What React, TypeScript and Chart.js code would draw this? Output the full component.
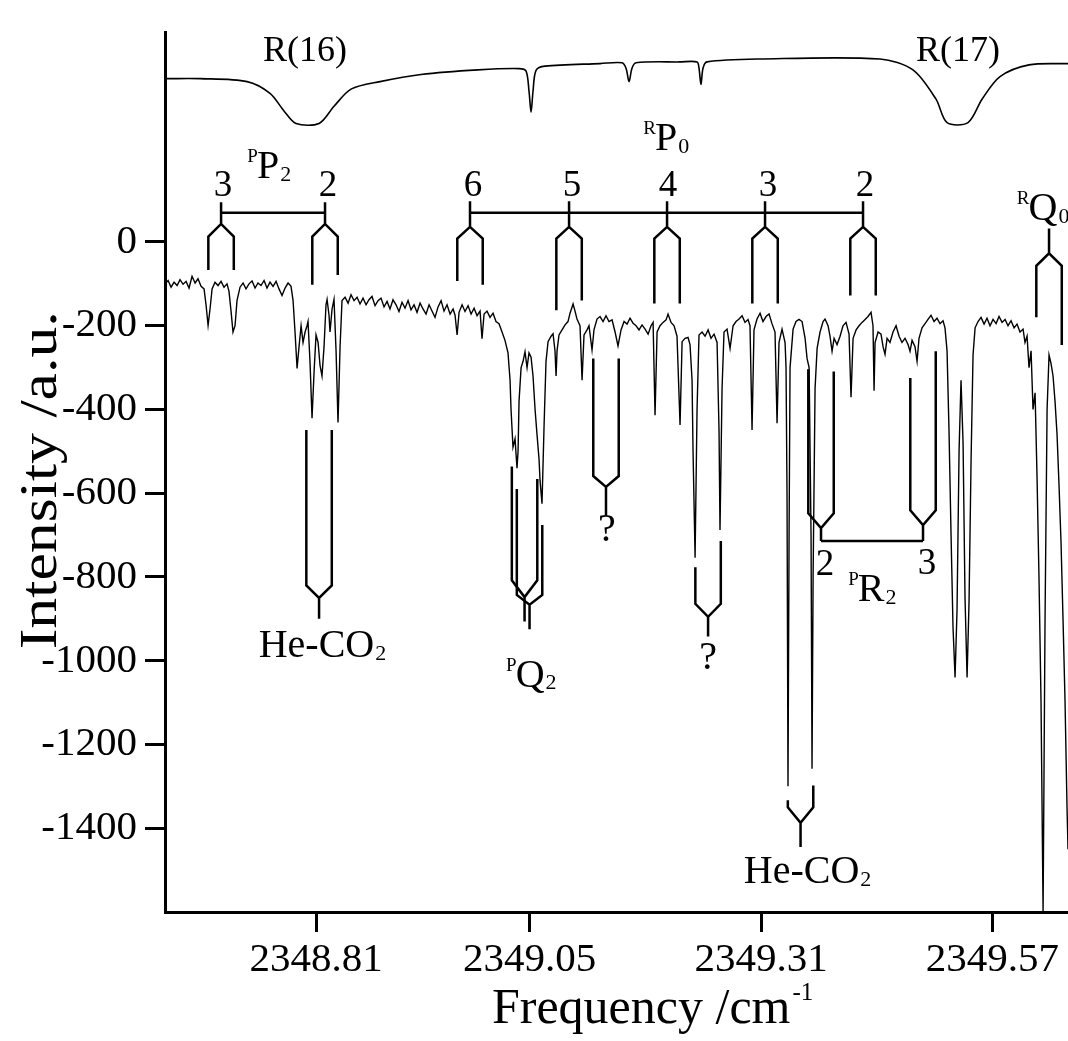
import React, { useEffect, useRef } from 'react';
import { Chart, registerables } from 'chart.js';

Chart.register(...registerables);

const FONT = "'Liberation Serif', 'Times New Roman', Times, serif";

// Axis ticks
const xTickValues = [2348.81, 2349.05, 2349.31, 2349.57];
const yTickValues = [0, -200, -400, -600, -800, -1000, -1200, -1400];

// Reference (upper) trace
const refFreq = [
  2348.6415, 2348.6797, 2348.7325, 2348.7583, 2348.7740, 2348.7875, 2348.8134, 2348.8302,
  2348.8493, 2348.8819, 2348.9280, 2348.9920, 2349.0381, 2349.0460, 2349.0493, 2349.0516,
  2349.0538, 2349.0572, 2349.0673, 2349.1291, 2349.1538, 2349.1583, 2349.1617, 2349.1650,
  2349.1695, 2349.2189, 2349.2381, 2349.2403, 2349.2425, 2349.2448, 2349.2493, 2349.3088,
  2349.4437, 2349.4807, 2349.5066, 2349.5190, 2349.5425, 2349.5583, 2349.5785, 2349.6111,
  2349.6549,
];
const refIntensity = [
  390, 390, 383, 355, 313, 283, 283, 324,
  365, 383, 400, 411, 414, 408, 360, 310,
  360, 410, 420, 426, 428, 415, 383, 415,
  428, 430, 430, 415, 376, 415, 430, 437,
  437, 411, 341, 285, 285, 341, 395, 423,
  426,
];

// Measured spectrum (lower trace)
const specFreq = [
  2348.6404, 2348.6438, 2348.6471, 2348.6505, 2348.6539, 2348.6572, 2348.6606, 2348.6640, 2348.6673, 2348.6707,
  2348.6741, 2348.6774, 2348.6808, 2348.6842, 2348.6864, 2348.6887, 2348.6909, 2348.6932, 2348.6965, 2348.6999,
  2348.7033, 2348.7066, 2348.7100, 2348.7122, 2348.7145, 2348.7167, 2348.7190, 2348.7212, 2348.7246, 2348.7280,
  2348.7313, 2348.7347, 2348.7381, 2348.7415, 2348.7448, 2348.7482, 2348.7516, 2348.7549, 2348.7583, 2348.7617,
  2348.7651, 2348.7684, 2348.7718, 2348.7752, 2348.7786, 2348.7819, 2348.7842, 2348.7864, 2348.7887, 2348.7909,
  2348.7932, 2348.7954, 2348.7977, 2348.7999, 2348.8010, 2348.8033, 2348.8055, 2348.8078, 2348.8100, 2348.8123,
  2348.8145, 2348.8167, 2348.8190, 2348.8212, 2348.8224, 2348.8246, 2348.8257, 2348.8280, 2348.8302, 2348.8325,
  2348.8347, 2348.8370, 2348.8392, 2348.8426, 2348.8460, 2348.8493, 2348.8527, 2348.8561, 2348.8594, 2348.8628,
  2348.8662, 2348.8695, 2348.8729, 2348.8763, 2348.8797, 2348.8830, 2348.8864, 2348.8898, 2348.8931, 2348.8965,
  2348.8999, 2348.9032, 2348.9066, 2348.9100, 2348.9134, 2348.9167, 2348.9201, 2348.9235, 2348.9269, 2348.9302,
  2348.9336, 2348.9370, 2348.9403, 2348.9437, 2348.9471, 2348.9505, 2348.9538, 2348.9572, 2348.9606, 2348.9640,
  2348.9662, 2348.9685, 2348.9707, 2348.9741, 2348.9774, 2348.9808, 2348.9842, 2348.9876, 2348.9909, 2348.9943,
  2348.9965, 2348.9988, 2349.0021, 2349.0055, 2349.0089, 2349.0122, 2349.0156, 2349.0190, 2349.0223, 2349.0257,
  2349.0280, 2349.0291, 2349.0313, 2349.0336, 2349.0358, 2349.0370, 2349.0381, 2349.0404, 2349.0426, 2349.0448,
  2349.0471, 2349.0493, 2349.0516, 2349.0538, 2349.0561, 2349.0583, 2349.0606, 2349.0617, 2349.0639, 2349.0662,
  2349.0684, 2349.0707, 2349.0741, 2349.0763, 2349.0785, 2349.0797, 2349.0808, 2349.0830, 2349.0864, 2349.0898,
  2349.0931, 2349.0954, 2349.0988, 2349.1010, 2349.1032, 2349.1066, 2349.1089, 2349.1111, 2349.1145, 2349.1167,
  2349.1201, 2349.1223, 2349.1257, 2349.1291, 2349.1325, 2349.1358, 2349.1392, 2349.1426, 2349.1460, 2349.1493,
  2349.1527, 2349.1561, 2349.1595, 2349.1628, 2349.1662, 2349.1696, 2349.1729, 2349.1763, 2349.1797, 2349.1831,
  2349.1864, 2349.1887, 2349.1909, 2349.1932, 2349.1965, 2349.1999, 2349.2033, 2349.2055, 2349.2089, 2349.2123,
  2349.2156, 2349.2190, 2349.2213, 2349.2246, 2349.2280, 2349.2302, 2349.2325, 2349.2336, 2349.2359, 2349.2381,
  2349.2403, 2349.2437, 2349.2471, 2349.2505, 2349.2538, 2349.2572, 2349.2606, 2349.2628, 2349.2639, 2349.2662,
  2349.2684, 2349.2718, 2349.2752, 2349.2786, 2349.2819, 2349.2853, 2349.2887, 2349.2920, 2349.2954, 2349.2976,
  2349.2999, 2349.3021, 2349.3055, 2349.3089, 2349.3122, 2349.3156, 2349.3190, 2349.3223, 2349.3257, 2349.3280,
  2349.3302, 2349.3336, 2349.3370, 2349.3381, 2349.3392, 2349.3403, 2349.3415, 2349.3426, 2349.3460, 2349.3493,
  2349.3527, 2349.3561, 2349.3595, 2349.3617, 2349.3640, 2349.3662, 2349.3673, 2349.3685, 2349.3707, 2349.3730,
  2349.3763, 2349.3797, 2349.3819, 2349.3853, 2349.3875, 2349.3898, 2349.3921, 2349.3954, 2349.3988, 2349.4021,
  2349.4055, 2349.4089, 2349.4111, 2349.4134, 2349.4168, 2349.4201, 2349.4235, 2349.4269, 2349.4302, 2349.4336,
  2349.4358, 2349.4370, 2349.4381, 2349.4415, 2349.4448, 2349.4471, 2349.4493, 2349.4516, 2349.4549, 2349.4583,
  2349.4617, 2349.4651, 2349.4684, 2349.4718, 2349.4752, 2349.4774, 2349.4797, 2349.4830, 2349.4853, 2349.4875,
  2349.4909, 2349.4943, 2349.4976, 2349.5010, 2349.5044, 2349.5077, 2349.5111, 2349.5145, 2349.5167, 2349.5190,
  2349.5212, 2349.5235, 2349.5257, 2349.5280, 2349.5302, 2349.5325, 2349.5347, 2349.5370, 2349.5392, 2349.5415,
  2349.5437, 2349.5460, 2349.5482, 2349.5505, 2349.5538, 2349.5572, 2349.5606, 2349.5639, 2349.5673, 2349.5707,
  2349.5741, 2349.5774, 2349.5808, 2349.5842, 2349.5875, 2349.5909, 2349.5943, 2349.5976, 2349.6010, 2349.6044,
  2349.6066, 2349.6089, 2349.6111, 2349.6134, 2349.6156, 2349.6179, 2349.6201, 2349.6223, 2349.6246, 2349.6269,
  2349.6291, 2349.6314, 2349.6336, 2349.6358, 2349.6381, 2349.6403, 2349.6426, 2349.6448, 2349.6471, 2349.6493,
  2349.6516, 2349.6538, 2349.6549,
];
const specIntensity = [
  -100, -92, -108, -96, -104, -90, -101, -94, -110, -82,
  -98, -88, -106, -112, -150, -199, -160, -112, -96, -104,
  -94, -108, -100, -118, -165, -215, -200, -140, -108, -98,
  -112, -100, -93, -110, -98, -104, -92, -110, -96, -106,
  -94, -112, -128, -110, -98, -106, -140, -215, -302, -250,
  -200, -240, -215, -200, -190, -290, -421, -310, -222, -240,
  -295, -320, -250, -150, -137, -175, -215, -160, -137, -260,
  -431, -250, -140, -132, -146, -126, -140, -132, -148, -134,
  -150, -138, -130, -152, -140, -134, -155, -142, -160, -138,
  -150, -166, -144, -158, -140, -162, -150, -168, -146, -160,
  -172, -150, -165, -180, -155, -140, -165, -150, -172, -160,
  -175, -222, -168, -150, -166, -152, -172, -158, -176, -165,
  -231, -172, -165, -180, -170, -190, -195, -215, -235, -265,
  -330, -400, -490, -470, -540, -500, -380, -300, -285, -262,
  -300, -265, -275, -320, -400, -460, -520, -570, -625, -440,
  -285, -238, -225, -219, -260, -320, -260, -222, -210, -198,
  -190, -170, -148, -165, -184, -200, -330, -222, -210, -200,
  -258, -210, -184, -178, -190, -176, -190, -186, -215, -248,
  -210, -190, -196, -182, -194, -200, -210, -198, -208, -220,
  -200, -192, -414, -215, -200, -192, -186, -172, -192, -200,
  -225, -437, -238, -230, -228, -245, -330, -500, -754, -400,
  -222, -215, -225, -210, -230, -220, -240, -450, -688, -350,
  -215, -208, -254, -200, -190, -184, -176, -192, -185, -200,
  -449, -210, -184, -170, -190, -178, -172, -195, -215, -433,
  -240, -208, -240, -300, -600, -1300, -700, -300, -208, -190,
  -185, -190, -230, -278, -300, -700, -1258, -800, -350, -254,
  -215, -190, -184, -200, -225, -261, -230, -245, -225, -200,
  -192, -220, -371, -230, -210, -200, -192, -185, -178, -168,
  -200, -355, -240, -215, -220, -250, -268, -230, -240, -215,
  -200, -225, -240, -230, -245, -261, -235, -250, -285, -230,
  -205, -195, -185, -175, -190, -182, -195, -188, -205, -260,
  -450, -700, -920, -1040, -880, -500, -330, -480, -850, -1040,
  -860, -520, -270, -205, -190, -180, -196, -182, -200, -185,
  -195, -178, -192, -185, -200, -188, -205, -196, -215, -208,
  -240, -225, -300, -260, -400, -360, -560, -800, -1100, -1600,
  -900, -400, -270, -290, -320, -380, -460, -580, -720, -900,
  -1100, -1350, -1450,
];

// Assignment combs: one entry per fork (stem end, apex, shoulder, prong tips)
const forkFreq = [
  2348.7033, 2348.8201,
  2348.9830, 2349.0943, 2349.2044, 2349.3145, 2349.4246,
  2349.6336,
  2348.8134, 2349.0443, 2349.0499, 2349.1358, 2349.2505, 2349.3544,
  2349.3774, 2349.4920,
];
const forkStem = [95, 95, 97, 97, 97, 97, 97, 32, -900, -906, -925, -653, -942, -1445, -714, -714];
const forkApex = [43, 43, 36, 36, 36, 36, 36, -27, -850, -848, -866, -585, -895, -1387, -683, -676];
const forkShoulder = [13, 13, 8, 8, 8, 8, 8, -57, -820, -808, -843, -559, -864, -1350, -648, -641];
const forkTipLeft = [-67, -102, -93, -163, -147, -147, -128, -180, -449, -536, -590, -278, -777, -1333, -304, -325];
const forkTipRight = [-67, -79, -102, -140, -147, -147, -128, -246, -449, -566, -676, -278, -714, -1298, -309, -261];
const forkHalfWidth = 0.0143;

// Horizontal connector bars [from, to, level]
const barFrom = [2348.7033, 2348.9830, 2349.3774];
const barTo = [2348.8201, 2349.4246, 2349.4920];
const barLevel = [70, 70, -714];

// Quantum-number / query labels
const numText = ['3', '2', '6', '5', '4', '3', '2', '2', '3'];
const numFreq = [2348.7055, 2348.8235, 2348.9864, 2349.0977, 2349.2055, 2349.3179, 2349.4269, 2349.3819, 2349.4965];
const numLevel = [132, 132, 132, 132, 132, 132, 132, -772, -770];
const queryFreq = [2349.1369, 2349.2505];
const queryLevel = [-690, -995];

// Branch labels: superscript, letter, subscript
const branchSup = ['P', 'R', 'R', 'P', 'P'];
const branchMain = ['P', 'P', 'Q', 'Q', 'R'];
const branchSub = ['2', '0', '0', '2', '2'];
const branchFreq = [2348.7561, 2349.2033, 2349.6268, 2349.0505, 2349.4336];
const branchLevel = [184, 250, 83, -1031, -827];

// Complex labels and reference-line labels
const complexFreq = [2348.8167, 2349.3617];
const complexLevel = [-960, -1499];
const refLineText = ['R(16)', 'R(17)'];
const refLineFreq = [2348.7976, 2349.5313];
const refLineLevel = [455, 455];

function drawBranch(ctx: CanvasRenderingContext2D, px: number, py: number, sup: string, main: string, sub: string, size: number) {
  ctx.font = `${size}px ${FONT}`;
  const w = ctx.measureText(main).width;
  const base = py + size * 0.33;
  ctx.textAlign = 'center';
  ctx.textBaseline = 'alphabetic';
  ctx.fillText(main, px, base);
  ctx.font = `${Math.round(size * 0.48)}px ${FONT}`;
  ctx.textAlign = 'right';
  ctx.fillText(sup, px - w / 2 + 1, base - size * 0.4);
  ctx.font = `${Math.round(size * 0.55)}px ${FONT}`;
  ctx.textAlign = 'left';
  ctx.fillText(sub, px + w / 2 + 1, base + size * 0.06);
}

function drawComplex(ctx: CanvasRenderingContext2D, px: number, py: number, size: number) {
  ctx.font = `${size}px ${FONT}`;
  const w1 = ctx.measureText('He-CO').width;
  ctx.font = `${Math.round(size * 0.55)}px ${FONT}`;
  const w2 = ctx.measureText('2').width;
  const left = px - (w1 + w2) / 2;
  const base = py + size * 0.33;
  ctx.textAlign = 'left';
  ctx.textBaseline = 'alphabetic';
  ctx.font = `${size}px ${FONT}`;
  ctx.fillText('He-CO', left, base);
  ctx.font = `${Math.round(size * 0.55)}px ${FONT}`;
  ctx.fillText('2', left + w1 + 1, base + size * 0.08);
}

const annotationPlugin = {
  id: 'annotations',
  afterDatasetsDraw(chart: any) {
    const { ctx, scales } = chart;
    const X = (v: number) => scales.x.getPixelForValue(v);
    const Y = (v: number) => scales.y.getPixelForValue(v);
    ctx.save();
    ctx.strokeStyle = '#000';
    ctx.fillStyle = '#000';
    ctx.lineWidth = 2.5;
    ctx.lineJoin = 'miter';
    ctx.lineCap = 'butt';
    forkFreq.forEach((nu, i) => {
      const cx = X(nu);
      const xl = X(nu - forkHalfWidth);
      const xr = X(nu + forkHalfWidth);
      ctx.beginPath();
      ctx.moveTo(cx, Y(forkStem[i]));
      ctx.lineTo(cx, Y(forkApex[i]));
      ctx.moveTo(xl, Y(forkTipLeft[i]));
      ctx.lineTo(xl, Y(forkShoulder[i]));
      ctx.lineTo(cx, Y(forkApex[i]));
      ctx.lineTo(xr, Y(forkShoulder[i]));
      ctx.lineTo(xr, Y(forkTipRight[i]));
      ctx.stroke();
    });
    barFrom.forEach((f, i) => {
      ctx.beginPath();
      ctx.moveTo(X(f), Y(barLevel[i]));
      ctx.lineTo(X(barTo[i]), Y(barLevel[i]));
      ctx.stroke();
    });
    ctx.textAlign = 'center';
    ctx.textBaseline = 'middle';
    ctx.font = `37px ${FONT}`;
    numText.forEach((t, i) => ctx.fillText(t, X(numFreq[i]), Y(numLevel[i])));
    ctx.font = `40px ${FONT}`;
    queryFreq.forEach((f, i) => ctx.fillText('?', X(f), Y(queryLevel[i])));
    ctx.font = `36px ${FONT}`;
    refLineText.forEach((t, i) => ctx.fillText(t, X(refLineFreq[i]), Y(refLineLevel[i])));
    branchMain.forEach((m, i) =>
      drawBranch(ctx, X(branchFreq[i]), Y(branchLevel[i]), branchSup[i], m, branchSub[i], 40)
    );
    complexFreq.forEach((f, i) => drawComplex(ctx, X(f), Y(complexLevel[i]), 40));
    ctx.restore();
  },
  afterDraw(chart: any) {
    const { ctx, chartArea } = chart;
    ctx.save();
    ctx.fillStyle = '#000';
    // x title
    ctx.font = `50px ${FONT}`;
    const w1 = ctx.measureText('Frequency /cm').width;
    ctx.font = `25px ${FONT}`;
    const w2 = ctx.measureText('-1').width;
    const cx = chartArea.left + (chartArea.right - chartArea.left) * 0.54;
    const left = cx - (w1 + w2 + 2) / 2;
    const base = chart.height - 18;
    ctx.textAlign = 'left';
    ctx.textBaseline = 'alphabetic';
    ctx.font = `50px ${FONT}`;
    ctx.fillText('Frequency /cm', left, base);
    ctx.font = `25px ${FONT}`;
    ctx.fillText('-1', left + w1 + 2, base - 23);
    // y title
    ctx.translate(42, chartArea.top + (chartArea.bottom - chartArea.top) * 0.509);
    ctx.rotate(-Math.PI / 2);
    ctx.font = `52px ${FONT}`;
    const tw = ctx.measureText('Intensity /a.u.').width;
    ctx.scale(338 / tw, 1);
    ctx.textAlign = 'center';
    ctx.textBaseline = 'middle';
    ctx.fillText('Intensity /a.u.', 0, 0);
    ctx.restore();
  },
};

export default function App() {
  const canvasRef = useRef<HTMLCanvasElement | null>(null);

  useEffect(() => {
    const canvas = canvasRef.current;
    if (!canvas) return;
    const tickFont = { family: FONT, size: 41 };
    const chart = new Chart(canvas, {
      type: 'line',
      data: {
        datasets: [
          {
            data: refFreq.map((x, i) => ({ x, y: refIntensity[i] })),
            borderColor: '#000',
            borderWidth: 1.6,
            pointRadius: 0,
            tension: 0.3,
            fill: false,
          },
          {
            data: specFreq.map((x, i) => ({ x, y: specIntensity[i] })),
            borderColor: '#000',
            borderWidth: 1.4,
            pointRadius: 0,
            tension: 0,
            fill: false,
          },
        ],
      },
      options: {
        animation: false,
        responsive: false,
        maintainAspectRatio: false,
        devicePixelRatio: 1,
        layout: { padding: { top: 15, right: 0, bottom: 0, left: 0 } },
        plugins: { legend: { display: false }, tooltip: { enabled: false } },
        scales: {
          x: {
            type: 'linear',
            min: 2348.6403,
            max: 2349.6549,
            afterBuildTicks: (axis: any) => {
              axis.ticks = xTickValues.map((value) => ({ value }));
            },
            afterFit: (axis: any) => {
              axis.height = 129;
            },
            ticks: {
              font: tickFont,
              color: '#000',
              padding: 4,
              maxRotation: 0,
              autoSkip: false,
              callback: (v: any) => Number(v).toFixed(2),
            },
            grid: {
              display: true,
              drawOnChartArea: false,
              drawTicks: true,
              tickLength: 20,
              tickWidth: 3,
              tickColor: '#000',
            },
            border: { display: true, color: '#000', width: 3 },
          },
          y: {
            type: 'linear',
            min: -1600,
            max: 500,
            afterBuildTicks: (axis: any) => {
              axis.ticks = yTickValues.map((value) => ({ value }));
            },
            afterFit: (axis: any) => {
              axis.width = 165;
            },
            ticks: {
              font: tickFont,
              color: '#000',
              padding: 8,
              autoSkip: false,
              callback: (v: any) => String(v),
            },
            grid: {
              display: true,
              drawOnChartArea: false,
              drawTicks: true,
              tickLength: 20,
              tickWidth: 3,
              tickColor: '#000',
            },
            border: { display: true, color: '#000', width: 3 },
          },
        },
      },
      plugins: [annotationPlugin],
    });
    return () => chart.destroy();
  }, []);

  return (
    <div style={{ position: 'fixed', left: 0, top: 0, width: 1068, height: 1041, background: '#fff' }}>
      <canvas ref={canvasRef} width={1068} height={1041} style={{ display: 'block', width: 1068, height: 1041 }} />
    </div>
  );
}
